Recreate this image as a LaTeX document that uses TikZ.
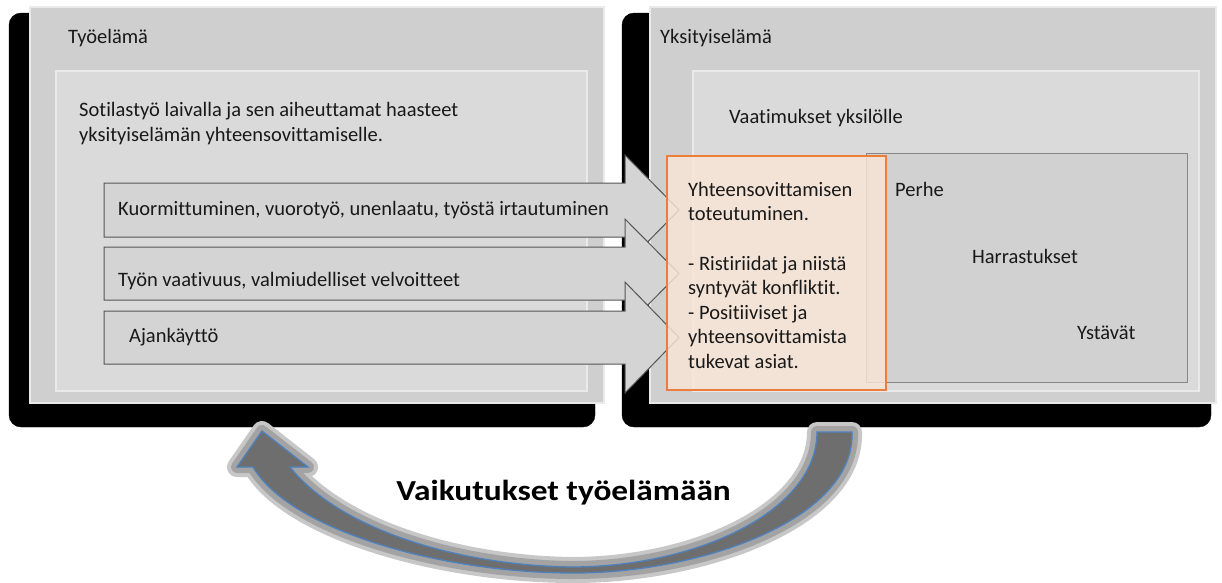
\documentclass[tikz,border=0pt]{standalone}
\usepackage{graphicx}
\usepackage{fontspec}
\setmainfont{Carlito}[Ligatures=NoCommon]
\definecolor{panel}{RGB}{208,207,208}
\definecolor{innerf}{RGB}{218,218,218}
\definecolor{innerb}{RGB}{234,234,234}
\definecolor{harr}{RGB}{210,209,210}
\definecolor{harrb}{RGB}{135,135,135}
\definecolor{arrf}{RGB}{212,212,212}
\definecolor{arrd}{RGB}{85,85,85}
\definecolor{orf}{RGB}{249,229,214}
\definecolor{ord}{RGB}{237,125,60}
\definecolor{blu}{RGB}{79,129,189}
\begin{document}
\begin{tikzpicture}[x=1pt,y=-1pt,
  shadowbox/.style={fill=black,rounded corners=12pt},
  panelbox/.style={fill=panel,draw=innerb,line width=1.2pt},
  innerbox/.style={fill=innerf,draw=innerb,line width=1.5pt},
  bigarrow/.style={fill=arrf,draw=arrd,line width=1pt,line join=miter},
  txt/.style={inner sep=0pt,font=\fontsize{20.5}{24.6}\selectfont,text=black!90,anchor=base west},
]
\useasboundingbox (0,0) rectangle (1222,582);
% shadows
\draw[shadowbox] (9,13) rectangle (595,427);
\draw[shadowbox] (622,13) rectangle (1211,427);
% panels
\draw[panelbox] (30,7) rectangle (604,403);
\draw[panelbox] (650,7) rectangle (1216,403);
\draw[innerbox] (56,71) rectangle (587,391);
\draw[innerbox] (693,71) rectangle (1199,391);
\draw[fill=harr,draw=harrb,line width=1pt] (866,153) rectangle (1187,382);
% arrows
\draw[bigarrow] (104,183) -- (625,183) -- (625,155) -- (679,210) -- (625,265) -- (625,237) -- (104,237) -- cycle;
\draw[bigarrow] (104,247) -- (625,247) -- (625,219) -- (679,273.5) -- (625,328) -- (625,300) -- (104,300) -- cycle;
\draw[bigarrow] (104,311) -- (625,311) -- (625,282) -- (679,337.5) -- (625,393) -- (625,364) -- (104,364) -- cycle;
% orange box
\draw[fill=orf,fill opacity=0.82,draw=ord,line width=1.3pt] (667,156) rectangle (886,390);
% texts
\node[txt] (tyo) at (68,43) {Työelämä};
\node[txt] (soti1) at (79,116) {Sotilastyö laivalla ja sen aiheuttamat haasteet};
\node[txt] (soti2) at (79,141) {yksityiselämän yhteensovittamiselle.};
\node[txt] (a1) at (118,215) {Kuormittuminen, vuorotyö, unenlaatu, työstä irtautuminen};
\node[txt] (a2) at (118,286) {Työn vaativuus, valmiudelliset velvoitteet};
\node[txt] (a3) at (129,342) {Ajankäyttö};
\node[txt] (yks) at (660,43) {Yksityiselämä};
\node[txt] (vaat) at (729,123) {Vaatimukset yksilölle};
\node[txt] (y1) at (688,196) {Yhteensovittamisen};
\node[txt] (y2) at (688,220.5) {toteutuminen.};
\node[txt] (y3) at (688,270) {- Ristiriidat ja niistä};
\node[txt] (y4) at (688,294.5) {syntyvät konfliktit.};
\node[txt] (y5) at (688,319) {- Positiiviset ja};
\node[txt] (y6) at (688,343.5) {yhteensovittamista};
\node[txt] (y7) at (688,368) {tukevat asiat.};
\node[txt] (perhe) at (895,196) {Perhe};
\node[txt,anchor=base] (harr) at (1025,263) {Harrastukset};
\node[txt] (ysta) at (1077,339) {Ystävät};
% curved arrow
\def\curvedpath{(852,432) .. controls (855,520) and (700,573) .. (574,573)
  .. controls (440,573) and (290,530) .. (253,467)
  -- (237,467) -- (262,431) -- (308,467) -- (290,467)
  .. controls (340,530) and (460,566) .. (574,567)
  .. controls (700,566) and (817,510) .. (817,432) -- cycle}
\draw[line width=20pt,black!22,line join=round] \curvedpath;
\draw[line width=12pt,black!36,line join=round] \curvedpath;
\draw[fill=black!57,draw=blu,line width=1.3pt,line join=miter] \curvedpath;
\node[inner sep=0pt,anchor=base,font=\fontsize{29}{30}\selectfont\bfseries] (vaik) at (563.5,500) {\scalebox{1.15}[1]{Vaikutukset työelämään}};
\end{tikzpicture}
\end{document}
